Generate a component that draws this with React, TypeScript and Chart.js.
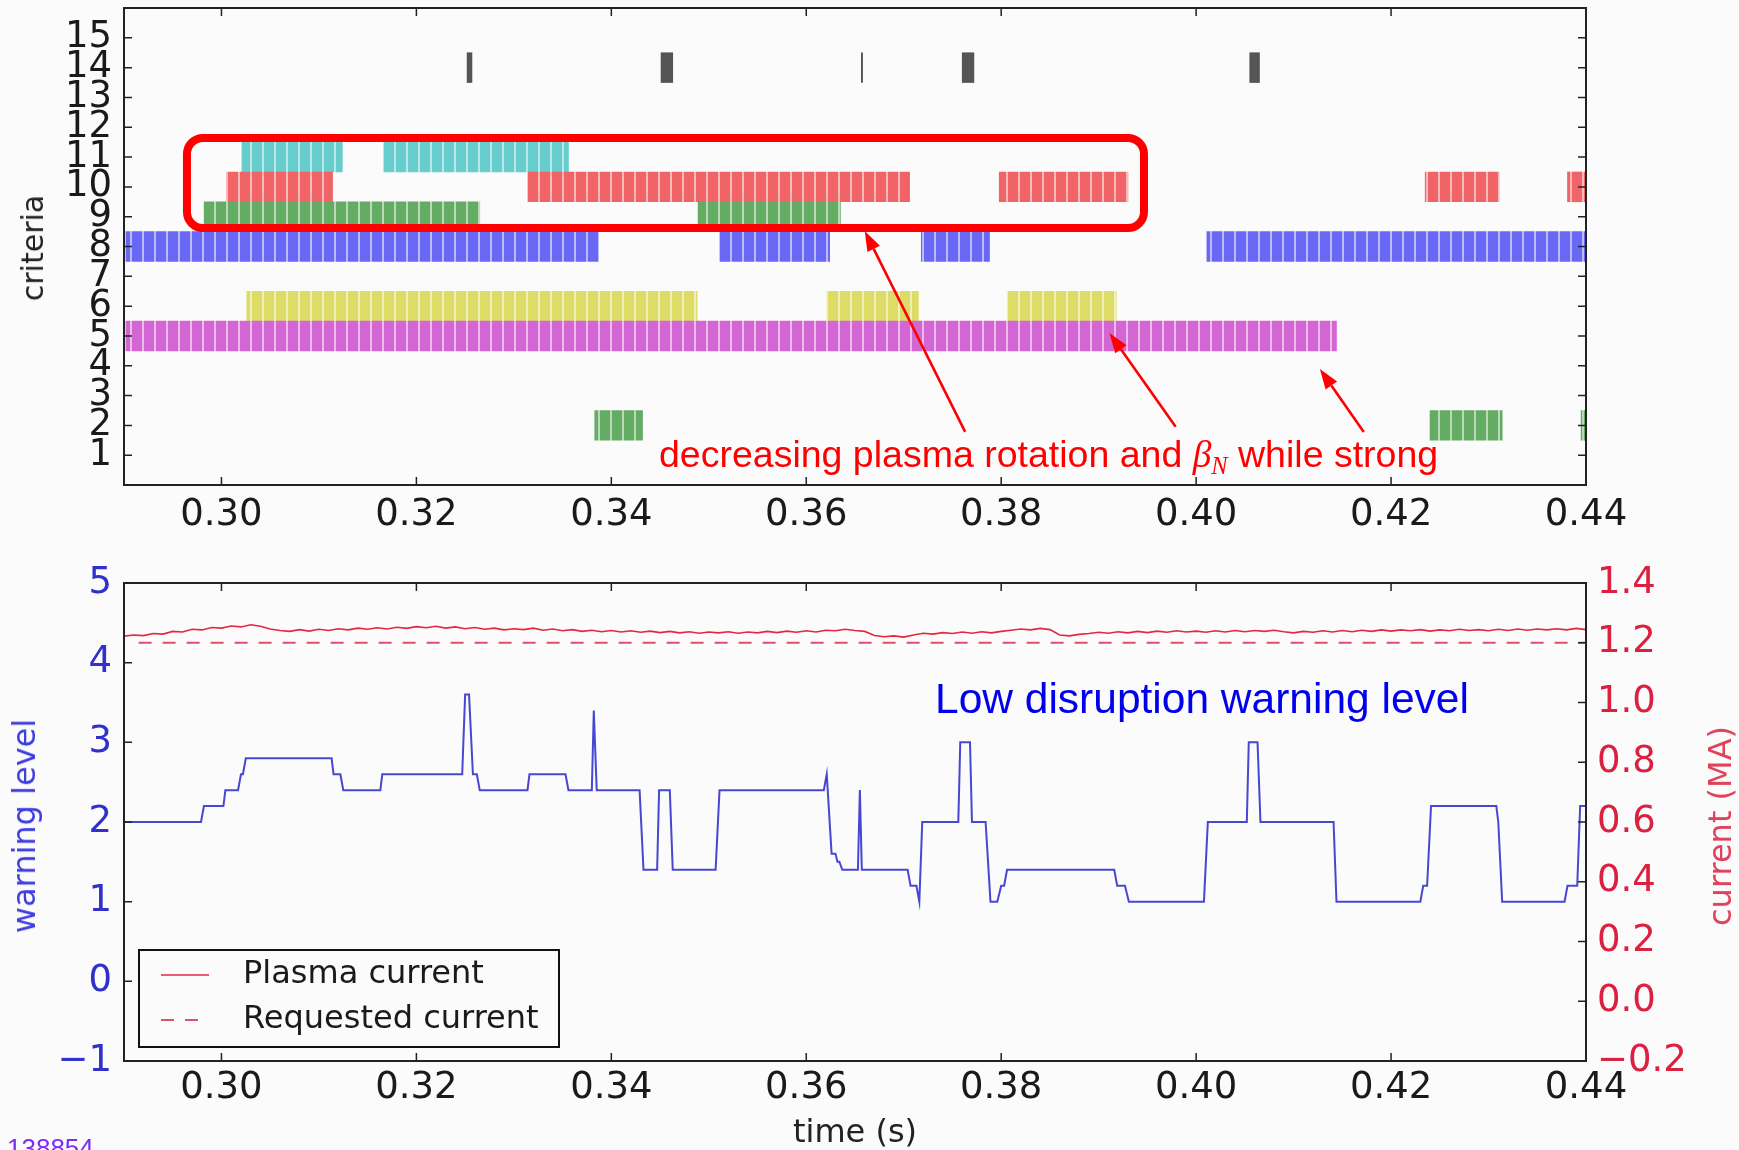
import React, { useEffect, useRef } from 'react';
import { Chart, registerables } from 'chart.js';

Chart.register(...registerables);
Chart.defaults.font.family = "'DejaVu Sans', sans-serif";

// ---------- axes ----------
const TIME_MIN = 0.29;
const TIME_MAX = 0.44;
const TIME_TICKS = [0.3, 0.32, 0.34, 0.36, 0.38, 0.4, 0.42, 0.44];
const CRITERIA_MIN = 0;
const CRITERIA_MAX = 16;
const CRITERIA_TICKS = [1, 2, 3, 4, 5, 6, 7, 8, 9, 10, 11, 12, 13, 14, 15];
const WARNING_MIN = -1;
const WARNING_MAX = 5;
const WARNING_TICKS = [-1, 0, 1, 2, 3, 4, 5];
const CURRENT_MIN = -0.2;
const CURRENT_MAX = 1.4;
const CURRENT_TICKS = [-0.2, 0, 0.2, 0.4, 0.6, 0.8, 1.0, 1.2, 1.4];

// ---------- top panel: active intervals [start, end] (s) per criterion ----------
const CRITERIA_ROWS = [2, 5, 6, 8, 9, 10, 11, 14];
const criterion2 = [[0.3383, 0.3432], [0.424, 0.4314], [0.4395, 0.44]];
const criterion5 = [[0.2902, 0.4144]];
const criterion6 = [[0.3026, 0.3488], [0.3621, 0.3715], [0.3806, 0.3918]];
const criterion8 = [[0.2902, 0.3387], [0.3511, 0.3624], [0.3718, 0.3788], [0.4011, 0.44]];
const criterion9 = [[0.2982, 0.3265], [0.3489, 0.3635]];
const criterion10 = [[0.3005, 0.3114], [0.3314, 0.3706], [0.3798, 0.393], [0.4235, 0.4311], [0.4381, 0.44]];
const criterion11 = [[0.3021, 0.3124], [0.3166, 0.3356]];
const criterion14 = [[0.3252, 0.3257], [0.3451, 0.3463], [0.36565, 0.36578], [0.376, 0.3772], [0.4055, 0.4065]];
const CRITERIA_SPANS: Record<number, number[][]> = {
  2: criterion2, 5: criterion5, 6: criterion6, 8: criterion8,
  9: criterion9, 10: criterion10, 11: criterion11, 14: criterion14,
};

// ---------- bottom panel ----------
const WARNING_TIMES = [
  0.29, 0.2979, 0.2982, 0.3002, 0.3004, 0.3017, 0.302, 0.3022, 0.3025, 0.3113,
  0.3115, 0.3122, 0.3125, 0.3163, 0.3165, 0.3247, 0.325, 0.3254, 0.3258, 0.3262,
  0.3265, 0.3314, 0.3316, 0.3353, 0.3356, 0.338, 0.3382, 0.3385, 0.3429, 0.3433,
  0.3447, 0.3449, 0.346, 0.3463, 0.3507, 0.3511, 0.3618, 0.3621, 0.3626, 0.363,
  0.3632, 0.3634, 0.3637, 0.3653, 0.3655, 0.3657, 0.3704, 0.3707, 0.3713, 0.3716,
  0.3719, 0.3756, 0.3758, 0.3768, 0.377, 0.3784, 0.3789, 0.3796, 0.38, 0.3803,
  0.3806, 0.3916, 0.3919, 0.3927, 0.3931, 0.4008, 0.4012, 0.4052, 0.4054, 0.4063,
  0.4066, 0.4141, 0.4144, 0.423, 0.4233, 0.4237, 0.4241, 0.4308, 0.431, 0.4314,
  0.4378, 0.4381, 0.4391, 0.4394, 0.44,
];
const WARNING_LEVELS = [
  2.0, 2.0, 2.2, 2.2, 2.4, 2.4, 2.6, 2.6, 2.8, 2.8,
  2.6, 2.6, 2.4, 2.4, 2.6, 2.6, 3.6, 3.6, 2.6, 2.6,
  2.4, 2.4, 2.6, 2.6, 2.4, 2.4, 3.4, 2.4, 2.4, 1.4,
  1.4, 2.4, 2.4, 1.4, 1.4, 2.4, 2.4, 2.6, 1.6, 1.6,
  1.5, 1.5, 1.4, 1.4, 2.4, 1.4, 1.4, 1.2, 1.2, 1.0,
  2.0, 2.0, 3.0, 3.0, 2.0, 2.0, 1.0, 1.0, 1.2, 1.2,
  1.4, 1.4, 1.2, 1.2, 1.0, 1.0, 2.0, 2.0, 3.0, 3.0,
  2.0, 2.0, 1.0, 1.0, 1.2, 1.2, 2.2, 2.2, 2.0, 1.0,
  1.0, 1.2, 1.2, 2.2, 2.2,
];

// plasma current (MA), sampled every 1 ms from 0.290 s
const PLASMA_T0 = 0.29;
const PLASMA_DT = 0.001;
const PLASMA_CURRENT = [
  1.222, 1.226, 1.224, 1.231, 1.229, 1.238, 1.236, 1.245, 1.243, 1.251,
  1.249, 1.256, 1.253, 1.260, 1.255, 1.246, 1.241, 1.238, 1.244, 1.239,
  1.245, 1.241, 1.247, 1.243, 1.249, 1.245, 1.250, 1.246, 1.252, 1.248,
  1.254, 1.250, 1.255, 1.249, 1.253, 1.247, 1.251, 1.245, 1.249, 1.243,
  1.247, 1.244, 1.249, 1.242, 1.246, 1.240, 1.244, 1.238, 1.242, 1.237,
  1.241, 1.236, 1.240, 1.235, 1.239, 1.234, 1.238, 1.233, 1.237, 1.232,
  1.236, 1.233, 1.237, 1.232, 1.236, 1.233, 1.238, 1.234, 1.239, 1.235,
  1.240, 1.236, 1.242, 1.240, 1.245, 1.241, 1.238, 1.224, 1.220, 1.223,
  1.219, 1.226, 1.232, 1.229, 1.234, 1.231, 1.236, 1.232, 1.237, 1.233,
  1.238, 1.242, 1.246, 1.243, 1.248, 1.244, 1.226, 1.223, 1.228, 1.231,
  1.235, 1.232, 1.237, 1.233, 1.238, 1.234, 1.239, 1.235, 1.240, 1.236,
  1.239, 1.235, 1.240, 1.236, 1.241, 1.237, 1.241, 1.238, 1.242, 1.237,
  1.233, 1.238, 1.235, 1.240, 1.236, 1.241, 1.237, 1.242, 1.238, 1.243,
  1.239, 1.243, 1.240, 1.244, 1.239, 1.243, 1.240, 1.245, 1.241, 1.244,
  1.240, 1.245, 1.241, 1.246, 1.242, 1.246, 1.243, 1.247, 1.243, 1.248,
  1.244,
];
const REQUESTED_TIMES = [0.2915, 0.44];
const REQUESTED_CURRENT = [1.2, 1.2];
const LEGEND_LABELS = ['Plasma current', 'Requested current'];

// annotations, in data units of the top panel (time, criteria)
const HIGHLIGHT_BOX = { tStart: 0.29646, tEnd: 0.39465, cLow: 8.62, cHigh: 11.64 };
const ANNOTATION_ARROWS = [
  { from: [0.3763, 1.78], to: [0.366, 8.52] },
  { from: [0.3979, 1.95], to: [0.3911, 5.1] },
  { from: [0.4172, 1.78], to: [0.4127, 3.89] },
];

// ---------- styles ----------
const W = 1739;
const TOP_H = 545;
const BOT_H = 605;
const PLOT_LEFT = 124;
const PLOT_RIGHT = 1586;
const BG = '#fbfbfb';
const ROW_COLORS: Record<number, string> = {
  2: '#64ab64', 5: '#d466d4', 6: '#dcdc66', 8: '#6868f4',
  9: '#64ab64', 10: '#f06468', 11: '#66cccc', 14: '#555555',
};
const TICK_FONT = { size: 37, family: "'DejaVu Sans', sans-serif" };
const BLUE_TICK = '#3030cc';
const RED_TICK = '#dc2040';

const fmt = (v: number, d: number) => (v < -1e-9 ? '\u2212' : '') + Math.abs(v).toFixed(d);

function stripePattern(ctx: CanvasRenderingContext2D, color: string) {
  const c = document.createElement('canvas');
  c.width = 12;
  c.height = 4;
  const g = c.getContext('2d')!;
  g.fillStyle = color;
  g.fillRect(0, 0, 12, 4);
  g.fillStyle = 'rgba(255,255,255,0.55)';
  g.fillRect(10, 0, 2, 4);
  return ctx.createPattern(c, 'repeat') as CanvasPattern;
}

const zeroPad = (s: any) => {
  s.paddingTop = 0;
  s.paddingBottom = 0;
  s.paddingLeft = 0;
  s.paddingRight = 0;
};

const framePlugin = {
  id: 'frame',
  afterDatasetsDraw(chart: any, _a: any, opts: any) {
    const { ctx, chartArea: ca, scales } = chart;
    const len = 8;
    ctx.save();
    ctx.strokeStyle = '#222';
    ctx.lineWidth = 1.5;
    ctx.beginPath();
    for (const t of scales.x.ticks) {
      const p = scales.x.getPixelForValue(t.value);
      ctx.moveTo(p, ca.bottom);
      ctx.lineTo(p, ca.bottom - len);
      ctx.moveTo(p, ca.top);
      ctx.lineTo(p, ca.top + len);
    }
    for (const t of scales.y.ticks) {
      const p = scales.y.getPixelForValue(t.value);
      ctx.moveTo(ca.left, p);
      ctx.lineTo(ca.left + len, p);
      if (!opts.right) {
        ctx.moveTo(ca.right, p);
        ctx.lineTo(ca.right - len, p);
      }
    }
    if (opts.right) {
      const s = scales[opts.right];
      for (const t of s.ticks) {
        const p = s.getPixelForValue(t.value);
        ctx.moveTo(ca.right, p);
        ctx.lineTo(ca.right - len, p);
      }
    }
    ctx.stroke();
    ctx.lineWidth = 2;
    ctx.strokeRect(ca.left, ca.top, ca.width, ca.height);
    ctx.restore();
  },
};

const highlightPlugin = {
  id: 'highlight',
  afterDraw(chart: any) {
    const { ctx, scales } = chart;
    const x = scales.x;
    const y = scales.y;
    ctx.save();
    ctx.strokeStyle = '#ff0000';
    ctx.fillStyle = '#ff0000';
    ctx.lineWidth = 8;
    const x0 = x.getPixelForValue(HIGHLIGHT_BOX.tStart);
    const x1 = x.getPixelForValue(HIGHLIGHT_BOX.tEnd);
    const y0 = y.getPixelForValue(HIGHLIGHT_BOX.cHigh);
    const y1 = y.getPixelForValue(HIGHLIGHT_BOX.cLow);
    ctx.beginPath();
    (ctx as any).roundRect(x0, y0, x1 - x0, y1 - y0, 16);
    ctx.stroke();
    ctx.lineWidth = 2.6;
    for (const a of ANNOTATION_ARROWS) {
      const fx = x.getPixelForValue(a.from[0]);
      const fy = y.getPixelForValue(a.from[1]);
      const tx = x.getPixelForValue(a.to[0]);
      const ty = y.getPixelForValue(a.to[1]);
      const ang = Math.atan2(ty - fy, tx - fx);
      const hl = 20;
      const hw = 7;
      const bx = tx - hl * Math.cos(ang);
      const by = ty - hl * Math.sin(ang);
      ctx.beginPath();
      ctx.moveTo(fx, fy);
      ctx.lineTo(bx, by);
      ctx.stroke();
      ctx.beginPath();
      ctx.moveTo(tx, ty);
      ctx.lineTo(bx + hw * Math.sin(ang), by - hw * Math.cos(ang));
      ctx.lineTo(bx - hw * Math.sin(ang), by + hw * Math.cos(ang));
      ctx.closePath();
      ctx.fill();
    }
    ctx.restore();
  },
};

const boxLegendPlugin = {
  id: 'boxLegend',
  afterDraw(chart: any) {
    const { ctx, chartArea: ca } = chart;
    const bx = ca.left + 15;
    const by = ca.bottom - 111;
    const bw = 420;
    const bh = 97;
    ctx.save();
    ctx.fillStyle = BG;
    ctx.fillRect(bx, by, bw, bh);
    ctx.strokeStyle = '#111';
    ctx.lineWidth = 2;
    ctx.strokeRect(bx, by, bw, bh);
    LEGEND_LABELS.forEach((label, i) => {
      const ds = chart.data.datasets.find((d: any) => d.label === label);
      const ry = by + 25 + i * 45;
      ctx.strokeStyle = ds.borderColor;
      ctx.lineWidth = ds.borderWidth;
      ctx.setLineDash(ds.borderDash || []);
      ctx.beginPath();
      ctx.moveTo(bx + 22, ry);
      ctx.lineTo(bx + 70, ry);
      ctx.stroke();
      ctx.setLineDash([]);
      ctx.fillStyle = '#1a1a1a';
      ctx.font = "32px 'DejaVu Sans', sans-serif";
      ctx.textBaseline = 'middle';
      ctx.textAlign = 'left';
      ctx.fillText(label, bx + 104, ry);
    });
    ctx.restore();
  },
};

const timeAxis = (height: number, pad: number) => ({
  type: 'linear',
  position: 'bottom',
  min: TIME_MIN,
  max: TIME_MAX,
  offset: false,
  grid: { display: false, drawTicks: false },
  border: { display: false },
  afterBuildTicks: (s: any) => {
    s.ticks = TIME_TICKS.map((v) => ({ value: v }));
  },
  ticks: {
    callback: (v: any) => Number(v).toFixed(2),
    font: TICK_FONT,
    color: '#1a1a1a',
    padding: pad,
    maxRotation: 0,
    minRotation: 0,
    autoSkip: false,
  },
  afterFit: (s: any) => {
    s.height = height;
    zeroPad(s);
  },
});

export default function App() {
  const topRef = useRef<HTMLCanvasElement>(null);
  const botRef = useRef<HTMLCanvasElement>(null);

  useEffect(() => {
    const topCanvas = topRef.current!;
    const botCanvas = botRef.current!;
    const tctx = topCanvas.getContext('2d')!;

    const barDatasets = CRITERIA_ROWS.map((row) => ({
      label: 'criterion ' + row,
      data: CRITERIA_SPANS[row].map(([a, b]) => ({ x: [a, b], y: row })),
      backgroundColor: row === 14 ? ROW_COLORS[row] : stripePattern(tctx, ROW_COLORS[row]),
      borderWidth: 0,
      grouped: false,
      barPercentage: 1,
      categoryPercentage: 1,
    }));

    const top = new Chart(topCanvas, {
      type: 'bar',
      data: { datasets: barDatasets as any },
      options: {
        indexAxis: 'y',
        animation: false,
        responsive: false,
        devicePixelRatio: 1,
        events: [],
        layout: { padding: { left: 0, right: W - PLOT_RIGHT, top: 8, bottom: 0 } },
        plugins: {
          legend: { display: false },
          tooltip: { enabled: false },
          frame: {},
        } as any,
        scales: {
          x: timeAxis(TOP_H - 485, 8) as any,
          y: {
            type: 'linear',
            min: CRITERIA_MIN,
            max: CRITERIA_MAX,
            offset: false,
            grid: { display: false, offset: false, drawTicks: false },
            border: { display: false },
            afterBuildTicks: (s: any) => {
              s.ticks = CRITERIA_TICKS.map((v) => ({ value: v }));
            },
            ticks: {
              callback: (v: any) => String(v),
              font: TICK_FONT,
              color: '#1a1a1a',
              padding: 12,
              autoSkip: false,
            },
            afterFit: (s: any) => {
              s.width = PLOT_LEFT;
              zeroPad(s);
            },
          } as any,
        },
      },
      plugins: [framePlugin, highlightPlugin],
    });

    const bot = new Chart(botCanvas, {
      type: 'line',
      data: {
        datasets: [
          {
            label: 'warning level',
            data: WARNING_TIMES.map((t, i) => ({ x: t, y: WARNING_LEVELS[i] })),
            yAxisID: 'y',
            borderColor: 'rgba(45,45,205,0.88)',
            borderWidth: 2,
            pointRadius: 0,
            tension: 0,
          },
          {
            label: 'Plasma current',
            data: PLASMA_CURRENT.map((v, i) => ({ x: PLASMA_T0 + i * PLASMA_DT, y: v })),
            yAxisID: 'y1',
            borderColor: '#e3283f',
            borderWidth: 1.6,
            pointRadius: 0,
            tension: 0,
          },
          {
            label: 'Requested current',
            data: REQUESTED_TIMES.map((t, i) => ({ x: t, y: REQUESTED_CURRENT[i] })),
            yAxisID: 'y1',
            borderColor: '#e0506a',
            borderWidth: 2,
            borderDash: [13, 11],
            pointRadius: 0,
            tension: 0,
          },
        ] as any,
      },
      options: {
        animation: false,
        responsive: false,
        devicePixelRatio: 1,
        events: [],
        layout: { padding: { left: 0, right: 0, top: 583 - TOP_H, bottom: 0 } },
        plugins: {
          legend: { display: false },
          tooltip: { enabled: false },
          frame: { right: 'y1' },
        } as any,
        scales: {
          x: timeAxis(TOP_H + BOT_H - 1061, 5) as any,
          y: {
            type: 'linear',
            position: 'left',
            min: WARNING_MIN,
            max: WARNING_MAX,
            grid: { display: false, drawTicks: false },
            border: { display: false },
            afterBuildTicks: (s: any) => {
              s.ticks = WARNING_TICKS.map((v) => ({ value: v }));
            },
            ticks: {
              callback: (v: any) => fmt(Number(v), 0),
              font: TICK_FONT,
              color: BLUE_TICK,
              padding: 12,
              autoSkip: false,
            },
            afterFit: (s: any) => {
              s.width = PLOT_LEFT;
              zeroPad(s);
            },
          } as any,
          y1: {
            type: 'linear',
            position: 'right',
            min: CURRENT_MIN,
            max: CURRENT_MAX,
            grid: { display: false, drawTicks: false },
            border: { display: false },
            afterBuildTicks: (s: any) => {
              s.ticks = CURRENT_TICKS.map((v) => ({ value: v }));
            },
            ticks: {
              callback: (v: any) => fmt(Number(v), 1),
              font: TICK_FONT,
              color: RED_TICK,
              padding: 11,
              autoSkip: false,
            },
            afterFit: (s: any) => {
              s.width = W - PLOT_RIGHT;
              zeroPad(s);
            },
          } as any,
        },
      },
      plugins: [framePlugin, boxLegendPlugin],
    });

    return () => {
      top.destroy();
      bot.destroy();
    };
  }, []);

  const abs = (extra: React.CSSProperties): React.CSSProperties => ({
    position: 'absolute',
    whiteSpace: 'nowrap',
    lineHeight: 1,
    ...extra,
  });
  const vTitle = (cx: number, cy: number, size: number, color: string): React.CSSProperties =>
    abs({
      left: cx,
      top: cy,
      fontFamily: "'DejaVu Sans', sans-serif",
      fontSize: size,
      color,
      transform: 'translate(-50%, -50%) rotate(-90deg)',
    });

  return (
    <div
      style={{
        position: 'absolute',
        left: 0,
        top: 0,
        width: W,
        height: TOP_H + BOT_H,
        background: BG,
        overflow: 'hidden',
      }}
    >
      <canvas
        ref={topRef}
        width={W}
        height={TOP_H}
        style={{ position: 'absolute', left: 0, top: 0, width: W, height: TOP_H }}
      />
      <canvas
        ref={botRef}
        width={W}
        height={BOT_H}
        style={{ position: 'absolute', left: 0, top: TOP_H, width: W, height: BOT_H }}
      />
      <div style={vTitle(33, 248, 30, '#222')}>criteria</div>
      <div style={vTitle(24, 826, 32, '#3d3de0')}>warning level</div>
      <div style={vTitle(1720, 826, 32, '#e0405a')}>current (MA)</div>
      <div
        style={abs({
          left: 855,
          top: 1131,
          transform: 'translate(-50%, -50%)',
          fontFamily: "'DejaVu Sans', sans-serif",
          fontSize: 32,
          color: '#222',
        })}
      >
        time (s)
      </div>
      <div
        style={abs({
          left: 659,
          top: 436,
          fontFamily: "'Liberation Sans', Arial, sans-serif",
          fontSize: 37.5,
          color: '#ff0000',
        })}
      >
        decreasing plasma rotation and{' '}
        <span style={{ fontFamily: "'Liberation Serif', serif", fontStyle: 'italic' }}>
          β
          <span style={{ fontSize: '0.65em', position: 'relative', top: '0.3em' }}>N</span>
        </span>{' '}
        while strong
      </div>
      <div
        style={abs({
          left: 935,
          top: 678,
          fontFamily: "'Liberation Sans', Arial, sans-serif",
          fontSize: 42.5,
          color: '#0000ee',
        })}
      >
        Low disruption warning level
      </div>
      <div
        style={abs({
          left: 7,
          top: 1135,
          fontFamily: "'Liberation Sans', Arial, sans-serif",
          fontSize: 26,
          color: '#7b2cf9',
        })}
      >
        138854
      </div>
    </div>
  );
}
